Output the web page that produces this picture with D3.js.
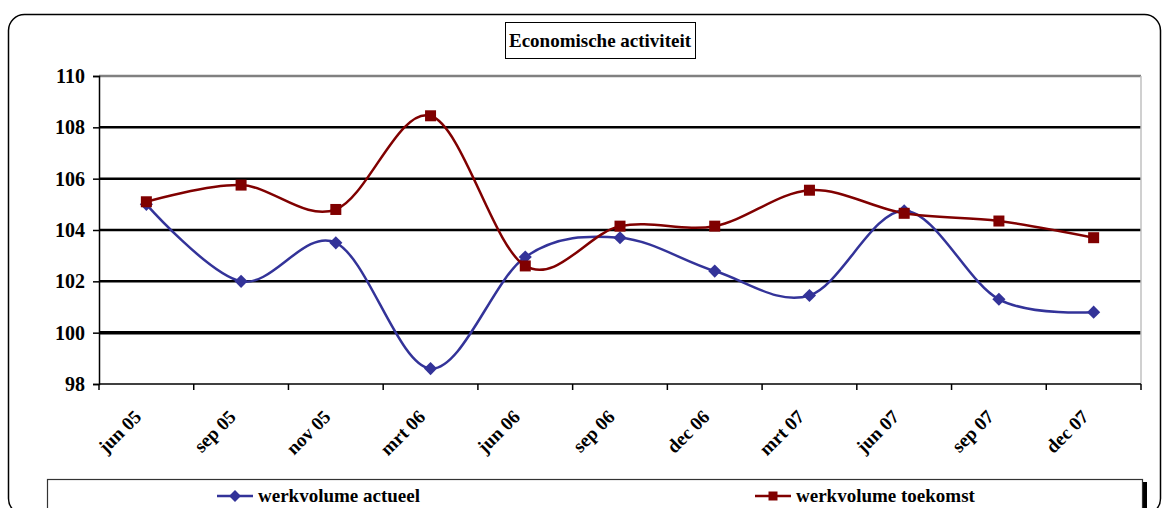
<!DOCTYPE html>
<html>
<head>
<meta charset="utf-8">
<script src="https://cdn.jsdelivr.net/npm/d3@7"></script>
<style>
  body { margin: 0; background: #fff; }
  svg { display: block; font-family: "Liberation Serif", "Times New Roman", serif; font-weight: bold; }
</style>
</head>
<body>
<div id="chart"></div>
<script>
// Data
var categories = ["jun 05", "sep 05", "nov 05", "mrt 06", "jun 06", "sep 06", "dec 06", "mrt 07", "jun 07", "sep 07", "dec 07"];
var actueel = [105.0, 102.0, 103.5, 98.6, 102.95, 103.7, 102.4, 101.45, 104.75, 101.3, 100.8];
var toekomst = [105.1, 105.75, 104.8, 108.45, 102.6, 104.15, 104.15, 105.55, 104.65, 104.35, 103.7];
var yTicks = [98, 100, 102, 104, 106, 108, 110];

var width = 1162, height = 508;
var margin = {top: 76, right: 21, bottom: 124, left: 99};

var svg = d3.select("#chart")
  .append("svg")
    .attr("width", width)
    .attr("height", height);

// Outer chart border
svg.append("rect")
  .attr("x", 8.5).attr("y", 14.5)
  .attr("width", 1152).attr("height", 500)
  .attr("rx", 16).attr("ry", 16)
  .attr("fill", "#fff")
  .attr("stroke", "#000")
  .attr("stroke-width", 1.5);

// Scales
var x = d3.scaleBand()
  .domain(categories)
  .range([margin.left, width - margin.right])
  .padding(0);

var y = d3.scaleLinear()
  .domain([98, 110])
  .range([height - margin.bottom, margin.top]);

// Grid lines
svg.append("g")
  .selectAll("line")
  .data(yTicks.filter(function(d) { return d > 98; }))
  .enter().append("line")
    .attr("x1", margin.left)
    .attr("x2", width - margin.right)
    .attr("y1", function(d) { return y(d); })
    .attr("y2", function(d) { return y(d); })
    .attr("stroke", function(d) { return d === 110 ? "#808080" : "#000"; })
    .attr("stroke-width", function(d) { return d === 100 ? 3.5 : 2.5; });

// plot area right border
svg.append("line")
  .attr("x1", width - margin.right).attr("x2", width - margin.right)
  .attr("y1", margin.top).attr("y2", height - margin.bottom)
  .attr("stroke", "#c0c0c0")
  .attr("stroke-width", 1.5);

// Y axis
var y_axis = svg.append("g")
  .attr("transform", "translate(" + margin.left + ",0)")
  .call(d3.axisLeft(y).tickValues(yTicks).tickSize(6).tickPadding(8));
y_axis.select(".domain").attr("stroke", "#000").attr("stroke-width", 1.5);
y_axis.selectAll(".tick line").attr("stroke", "#000").attr("stroke-width", 1.5);
y_axis.selectAll("text")
  .style("font-family", "Liberation Serif, serif")
  .style("font-weight", "bold")
  .style("font-size", "20px")
  .attr("fill", "#000");

// X axis (ticks at category boundaries)
var xAxisG = svg.append("g");
xAxisG.append("line")
  .attr("x1", margin.left).attr("x2", width - margin.right)
  .attr("y1", y(98)).attr("y2", y(98))
  .attr("stroke", "#000").attr("stroke-width", 1.5);
var bounds = categories.map(function(c) { return x(c); }).concat([x(categories[categories.length - 1]) + x.bandwidth()]);
xAxisG.selectAll(".xtick")
  .data(bounds)
  .enter().append("line")
    .attr("class", "xtick")
    .attr("x1", function(d) { return d; })
    .attr("x2", function(d) { return d; })
    .attr("y1", y(98))
    .attr("y2", y(98) + 6)
    .attr("stroke", "#000").attr("stroke-width", 1.5);
xAxisG.selectAll(".xlabel")
  .data(categories)
  .enter().append("text")
    .attr("class", "xlabel")
    .attr("text-anchor", "end")
    .attr("transform", function(d) {
      return "translate(" + (x(d) + x.bandwidth() / 2 - 4) + "," + (y(98) + 34) + ") rotate(-45)";
    })
    .style("font-size", "19px")
    .text(function(d) { return d; });

// Lines
var cx = function(d, i) { return x(categories[i]) + x.bandwidth() / 2; };
var line = d3.line()
  .x(cx)
  .y(function(d) { return y(d); })
  .curve(d3.curveCardinal.tension(0));

svg.append("path")
  .datum(actueel)
  .attr("fill", "none")
  .attr("stroke", "#333399")
  .attr("stroke-width", 2.5)
  .attr("d", line);

svg.append("path")
  .datum(toekomst)
  .attr("fill", "none")
  .attr("stroke", "#800000")
  .attr("stroke-width", 2.5)
  .attr("d", line);

// Markers
var diamond = d3.symbol().type(d3.symbolDiamond2).size(110);
svg.append("g")
  .selectAll("path")
  .data(actueel)
  .enter().append("path")
    .attr("d", diamond)
    .attr("transform", function(d, i) { return "translate(" + cx(d, i) + "," + y(d) + ")"; })
    .attr("fill", "#333399");

svg.append("g")
  .selectAll("rect")
  .data(toekomst)
  .enter().append("rect")
    .attr("x", function(d, i) { return cx(d, i) - 5.5; })
    .attr("y", function(d) { return y(d) - 5.5; })
    .attr("width", 11).attr("height", 11)
    .attr("fill", "#800000");

// Title
svg.append("rect")
  .attr("x", 505.5).attr("y", 22.5)
  .attr("width", 190).attr("height", 36)
  .attr("fill", "#fff")
  .attr("stroke", "#000")
  .attr("stroke-width", 1);
svg.append("text")
  .attr("x", 600).attr("y", 47)
  .attr("text-anchor", "middle")
  .style("font-size", "19px")
  .text("Economische activiteit");

// Legend
svg.append("rect")
  .attr("x", 1143).attr("y", 482)
  .attr("width", 4).attr("height", 30)
  .attr("fill", "#000");
svg.append("rect")
  .attr("x", 47.5).attr("y", 479.5)
  .attr("width", 1095).attr("height", 40)
  .attr("fill", "#fff")
  .attr("stroke", "#333")
  .attr("stroke-width", 1.2);

var legendItems = [
  {name: "werkvolume actueel", color: "#333399", x: 217, type: "diamond"},
  {name: "werkvolume toekomst", color: "#800000", x: 755, type: "square"}
];
var lg = svg.append("g").selectAll("g")
  .data(legendItems)
  .enter().append("g")
    .attr("transform", function(d) { return "translate(" + d.x + ",496)"; });
lg.append("line")
  .attr("x1", 0).attr("x2", 36)
  .attr("stroke", function(d) { return d.color; })
  .attr("stroke-width", 2.5);
lg.append("path")
  .attr("d", function(d) {
    return d.type === "diamond" ? d3.symbol().type(d3.symbolDiamond2).size(90)() : "M-4.5,-4.5h9v9h-9z";
  })
  .attr("transform", "translate(18,0)")
  .attr("fill", function(d) { return d.color; });
lg.append("text")
  .attr("x", 41).attr("y", 6)
  .style("font-size", "19px")
  .text(function(d) { return d.name; });
</script>
</body>
</html>
